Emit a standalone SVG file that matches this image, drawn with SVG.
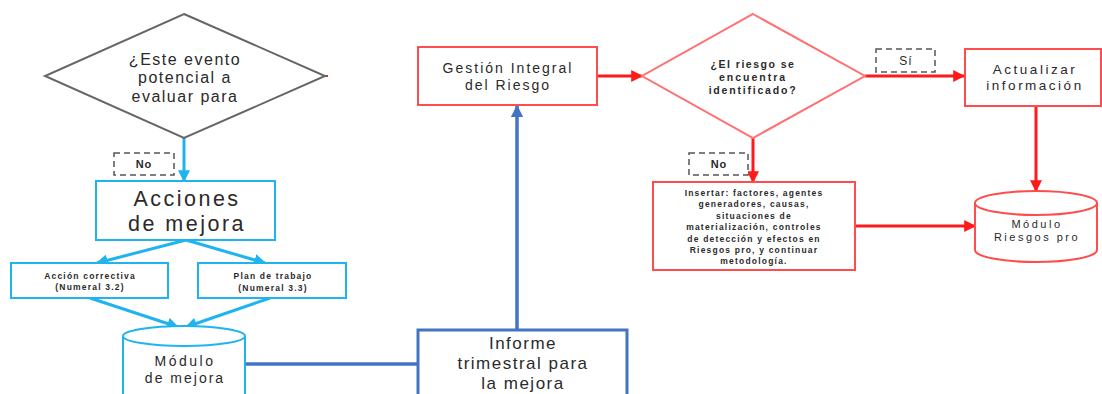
<svg xmlns="http://www.w3.org/2000/svg" width="1102" height="394" viewBox="0 0 1102 394">
<style>
text{font-family:"Liberation Sans",Arial,sans-serif;fill:#2a2a2a;text-anchor:middle;dominant-baseline:central}
.lb{fill:#fff;stroke:#1FB4F0;stroke-width:2}
.rd{fill:#fff;stroke:#FF4D4D;stroke-width:2}
.db{fill:#fff;stroke:#4472C4;stroke-width:3}
.dash{fill:#fff;stroke:#555;stroke-width:1.5;stroke-dasharray:6 4}
.cl{fill:none;stroke:#1FB4F0;stroke-width:3}
.cr{fill:none;stroke:#FF1A1A;stroke-width:3}
.cd{fill:none;stroke:#4472C4;stroke-width:3.5}
.sm{font-weight:bold;font-size:8.5px;letter-spacing:1.2px}
</style>
<defs>
<marker id="al" viewBox="0 0 10 10" refX="9" refY="5" markerWidth="4" markerHeight="4" orient="auto" markerUnits="strokeWidth"><path d="M0,0L10,5L0,10z" fill="#1FB4F0"/></marker>
<marker id="ar" viewBox="0 0 10 10" refX="9" refY="5" markerWidth="4" markerHeight="4" orient="auto" markerUnits="strokeWidth"><path d="M0,0L10,5L0,10z" fill="#FF1A1A"/></marker>
<marker id="ad" viewBox="0 0 10 10" refX="9" refY="5" markerWidth="3.5" markerHeight="3.5" orient="auto" markerUnits="strokeWidth"><path d="M0,0L10,5L0,10z" fill="#4472C4"/></marker>
</defs>
<rect width="1102" height="394" fill="#fff"/>

<g id="connectors">
<line class="cl" x1="184" y1="138" x2="184" y2="181" marker-end="url(#al)"/>
<line class="cl" x1="186" y1="240" x2="97" y2="263" marker-end="url(#al)"/>
<line class="cl" x1="186" y1="240" x2="265" y2="263" marker-end="url(#al)"/>
<line class="cl" x1="90" y1="298" x2="178" y2="327" marker-end="url(#al)"/>
<line class="cl" x1="270" y1="298" x2="186" y2="327" marker-end="url(#al)"/>
<line class="cd" x1="245" y1="364" x2="418" y2="364"/>
<line class="cd" x1="517" y1="330" x2="517" y2="106" marker-end="url(#ad)"/>
<line class="cr" x1="597" y1="76" x2="642" y2="76" marker-end="url(#ar)"/>
<line class="cr" x1="865" y1="76" x2="964" y2="76" marker-end="url(#ar)"/>
<line class="cr" x1="753" y1="138" x2="753" y2="182" marker-end="url(#ar)"/>
<line class="cr" x1="1036" y1="106" x2="1036" y2="191" marker-end="url(#ar)"/>
<line class="cr" x1="855" y1="226" x2="975" y2="226" marker-end="url(#ar)"/>
<line x1="324" y1="76" x2="328" y2="76" stroke="#FF1A1A" stroke-width="2"/>
</g>

<g id="decision1">
<polygon points="184,14 325,76 184,138 45,76" fill="#fff" stroke="#666" stroke-width="2"/>
<text x="185" y="59" font-size="16" letter-spacing="1.5">¿Este evento</text>
<text x="185" y="77.5" font-size="16" letter-spacing="1.5">potencial a</text>
<text x="185" y="96" font-size="16" letter-spacing="1.5">evaluar para</text>
</g>
<g id="label-no1">
<rect class="dash" x="114" y="153" width="60" height="22"/>
<text x="144" y="164" font-size="11" font-weight="bold" letter-spacing="1">No</text>
</g>
<g id="acciones">
<rect class="lb" x="96" y="181" width="179" height="59"/>
<text x="187" y="199" font-size="21.5" letter-spacing="2.5">Acciones</text>
<text x="187" y="224" font-size="21.5" letter-spacing="2.5">de mejora</text>
</g>
<g id="accion-correctiva">
<rect class="lb" x="11" y="263" width="157" height="35"/>
<text class="sm" x="90" y="276">Acción correctiva</text>
<text class="sm" x="90" y="287">(Numeral 3.2)</text>
</g>
<g id="plan-trabajo">
<rect class="lb" x="198" y="263" width="148" height="35"/>
<text class="sm" x="273" y="276">Plan de trabajo</text>
<text class="sm" x="273" y="288">(Numeral 3.3)</text>
</g>
<g id="modulo-mejora">
<path class="lb" d="M123,336 L123,400 L245,400 L245,336"/>
<ellipse class="lb" cx="184" cy="336" rx="61" ry="10"/>
<text x="185" y="361" font-size="14" letter-spacing="2.5">Módulo</text>
<text x="185" y="378" font-size="14" letter-spacing="2">de mejora</text>
</g>
<g id="informe">
<rect class="db" x="418" y="330" width="209" height="80"/>
<text x="523" y="343" font-size="17" letter-spacing="1.5">Informe</text>
<text x="523" y="363" font-size="17" letter-spacing="1.5">trimestral  para</text>
<text x="523" y="383" font-size="17" letter-spacing="1.5">la mejora</text>
</g>
<g id="gestion">
<rect class="rd" x="418" y="47" width="179" height="58"/>
<text x="508" y="68" font-size="14" letter-spacing="2">Gestión Integral</text>
<text x="508" y="85" font-size="14" letter-spacing="2">del  Riesgo</text>
</g>
<g id="decision2">
<polygon points="753,14 865,76 753,138 642,76" fill="#fff" stroke="#FF7070" stroke-width="2"/>
<text x="753" y="64" font-size="10.5" font-weight="bold" letter-spacing="1.5">¿El riesgo se</text>
<text x="753" y="77" font-size="10.5" font-weight="bold" letter-spacing="2">encuentra</text>
<text x="753" y="90" font-size="10.5" font-weight="bold" letter-spacing="1.8">identificado?</text>
</g>
<g id="label-si">
<rect class="dash" x="876" y="49" width="59" height="23"/>
<text x="906" y="61" font-size="12" letter-spacing="1">Sí</text>
</g>
<g id="label-no2">
<rect class="dash" x="689" y="153" width="59" height="22"/>
<text x="719" y="164" font-size="11" font-weight="bold" letter-spacing="1">No</text>
</g>
<g id="actualizar">
<rect class="rd" x="965" y="49" width="136" height="57"/>
<text x="1035" y="69" font-size="13.5" letter-spacing="2.5">Actualizar</text>
<text x="1035" y="85" font-size="13.5" letter-spacing="2.5">información</text>
</g>
<g id="insertar">
<rect class="rd" x="653" y="182" width="202" height="88"/>
<text class="sm" x="754" y="193">Insertar: factores, agentes</text>
<text class="sm" x="754" y="204">generadores, causas,</text>
<text class="sm" x="754" y="216">situaciones de</text>
<text class="sm" x="754" y="227">materialización, controles</text>
<text class="sm" x="754" y="239">de detección y efectos en</text>
<text class="sm" x="754" y="250">Riesgos pro, y continuar</text>
<text class="sm" x="754" y="261">metodología.</text>
</g>
<g id="modulo-riesgos">
<path class="rd" d="M975,203 L975,250 A61,12 0 0 0 1097,250 L1097,203"/>
<ellipse class="rd" cx="1036" cy="203" rx="61" ry="12"/>
<text x="1037" y="224" font-size="11" letter-spacing="2.5">Módulo</text>
<text x="1037" y="237" font-size="11" letter-spacing="2.5">Riesgos pro</text>
</g>
</svg>
